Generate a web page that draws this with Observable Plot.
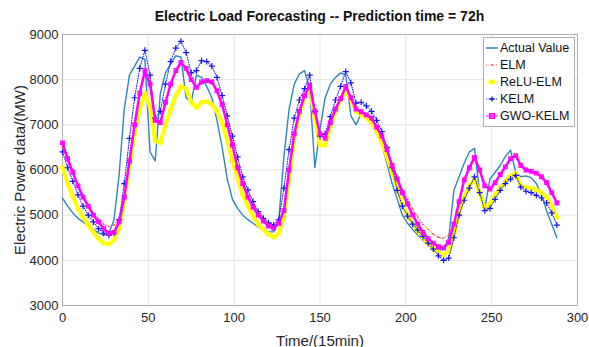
<!DOCTYPE html>
<html><head><meta charset="utf-8">
<script src="https://cdn.jsdelivr.net/npm/d3@7"></script>
<script src="https://cdn.jsdelivr.net/npm/@observablehq/plot@0.6"></script>
<style>
body{margin:0;background:#fff;font-family:"Liberation Sans",Arial,sans-serif;}
#wrap{position:relative;width:589px;height:347px;overflow:hidden;}
#title{position:absolute;left:62px;width:515px;top:8px;text-align:center;font-weight:bold;font-size:14px;color:#111;white-space:nowrap;}
#ylab{position:absolute;left:19px;top:170px;transform:translate(-50%,-50%) rotate(-90deg);font-size:15px;color:#262626;white-space:nowrap;}
#xlab{position:absolute;left:320px;top:340px;transform:translate(-50%,-50%);font-size:15px;color:#262626;white-space:nowrap;}
#legend{position:absolute;left:483px;top:37px;width:92px;height:90px;border:1px solid #b0b0b0;background:#fff;box-sizing:border-box;font-size:12.5px;color:#111;}
#legend .row{position:absolute;left:2px;height:16px;display:flex;align-items:center;white-space:nowrap;}
#legend svg{margin-right:1px;}
</style></head><body>
<div id="wrap">
<div id="chart"></div>
<div id="title">Electric Load Forecasting -- Prediction time = 72h</div>
<div id="ylab">Electric Power data/(MW)</div>
<div id="xlab">Time/(15min)</div>
<div id="legend"></div>
</div>
<script>
const xTicks = [0, 50, 100, 150, 200, 250, 300];
const yTicks = [3000, 4000, 5000, 6000, 7000, 8000, 9000];
const seriesNames = ["Actual Value", "ELM", "ReLU-ELM", "KELM", "GWO-KELM"];
const time = [0,3,6,9,12,15,18,21,24,27,30,33,36,39,42,45,48,51,54,57,60,63,66,69,72,75,78,81,84,87,90,93,96,99,102,105,108,111,114,117,120,123,126,129,132,135,138,141,144,147,150,153,156,159,162,165,168,171,174,177,180,183,186,189,192,195,198,201,204,207,210,213,216,219,222,225,228,231,234,237,240,243,246,249,252,255,258,261,264,267,270,273,276,279,282,285,288];
const actual = [5380,5200,5050,4930,4850,4760,4680,4610,4560,4600,4900,5900,7350,8100,8300,8500,8450,6400,6200,7700,8150,8350,8530,8500,7600,7500,8100,8050,7850,7600,7100,6500,5800,5350,5150,5000,4900,4820,4740,4680,4630,4630,4900,6300,7350,7900,8130,8200,7800,6050,6900,7600,7900,8050,8150,8100,7200,7000,7250,7150,7000,6850,6550,6150,5700,5350,5000,4820,4680,4560,4440,4350,4280,4220,4250,4500,5550,5850,6150,6400,6480,5500,5150,5800,5950,6100,6300,6440,5950,5850,5870,5830,5700,5450,5100,4800,4500];
const elm = [6500,6200,5920,5650,5420,5230,5050,4920,4800,4750,4780,4950,5450,6250,7050,7700,8150,7850,7100,7050,7500,7900,8180,8350,8230,7980,7830,7930,7960,7930,7730,7430,7000,6550,6080,5730,5450,5230,5060,4940,4850,4800,4880,5150,6000,6780,7280,7630,7850,7280,6800,6700,7050,7350,7580,7840,7600,7350,7290,7220,7150,6950,6750,6450,6130,5850,5580,5350,5140,4960,4800,4680,4580,4510,4490,4560,4850,5300,5780,6050,6270,6000,5650,5600,5730,5900,6060,6230,6300,6100,6000,5970,5920,5840,5700,5480,5250];
const reluElm = [6050,5700,5400,5150,4950,4780,4620,4480,4380,4360,4450,4700,5300,6100,6800,7350,7700,7400,6650,6600,7000,7350,7650,7850,7800,7500,7380,7500,7520,7450,7300,7050,6650,6200,5800,5450,5200,4980,4800,4680,4580,4510,4600,4950,5800,6700,7250,7600,7800,7150,6550,6550,6950,7300,7550,7780,7550,7300,7230,7150,7050,6850,6600,6300,5950,5600,5250,5000,4800,4650,4500,4380,4250,4170,4120,4200,4550,5050,5400,5650,5800,5500,5150,5250,5450,5600,5750,5870,5930,5650,5620,5600,5560,5500,5400,5200,4950];
const kelm = [6400,6050,5750,5450,5200,5000,4850,4700,4600,4550,4600,4900,5700,6700,7600,8250,8650,8100,7150,7300,7900,8400,8700,8850,8600,8150,8200,8420,8400,8300,8050,7650,7200,6750,6290,5850,5560,5300,5080,4930,4830,4780,4900,5600,6450,7150,7550,7800,8100,7300,6750,6800,7180,7550,7850,8180,7930,7480,7500,7420,7300,7100,6850,6500,6050,5550,5200,4980,4800,4670,4530,4380,4250,4100,4000,4050,4500,5000,5330,5600,5850,5500,5100,5150,5350,5550,5700,5800,5880,5620,5530,5500,5440,5380,5270,5050,4780];
const gwoKelm = [6600,6250,5950,5650,5400,5200,5000,4850,4700,4600,4620,4850,5400,6200,7000,7700,8200,7900,7100,7050,7500,7900,8200,8380,8250,8000,7830,7950,7980,7950,7750,7450,7000,6550,6050,5700,5400,5180,5000,4870,4760,4710,4820,5100,6000,6800,7300,7650,7880,7300,6800,6700,7050,7350,7580,7850,7600,7350,7290,7220,7150,6950,6750,6450,6100,5800,5500,5250,5000,4800,4620,4480,4380,4300,4270,4400,4800,5300,5780,6050,6280,6000,5650,5580,5720,5900,6070,6250,6320,6100,6000,5970,5930,5850,5720,5500,5270];

const colors = {actual: "#2f86b8", elm: "#f04a4a", relu: "#ffff00", kelm: "#1414f0", gwo: "#ff00ff"};
const rows = vals => time.map((t, i) => ({t, v: vals[i]}));

const chart = Plot.plot({
  width: 589, height: 347,
  marginLeft: 62, marginRight: 12, marginTop: 34, marginBottom: 42,
  style: {fontFamily: "Liberation Sans, Arial, sans-serif", fontSize: "13px", color: "#262626", background: "#fff"},
  x: {domain: [0, 300], ticks: xTicks, label: null},
  y: {domain: [3000, 9000], ticks: yTicks, label: null},
  marks: [
    Plot.gridX(xTicks, {stroke: "#e3e3e3", strokeOpacity: 1}),
    Plot.gridY(yTicks, {stroke: "#e3e3e3", strokeOpacity: 1}),
    Plot.frame({stroke: "#b0b0b0"}),
    Plot.axisX(xTicks, {tickSize: 0, tickPadding: 7, fontSize: 13, label: null, tickFormat: d => String(d)}),
    Plot.axisY(yTicks, {tickSize: 0, tickPadding: 4, fontSize: 13, label: null, tickFormat: d => String(d)}),
    Plot.line(rows(actual), {x: "t", y: "v", stroke: colors.actual, strokeWidth: 1.4}),
    Plot.line(rows(elm), {x: "t", y: "v", stroke: colors.elm, strokeWidth: 1, strokeDasharray: "1,2"}),
    Plot.dot(rows(elm), {x: "t", y: "v", r: 0.8, fill: colors.elm}),
    Plot.line(rows(reluElm), {x: "t", y: "v", stroke: colors.relu, strokeWidth: 4}),
    Plot.dot(rows(reluElm), {x: "t", y: "v", r: 2.4, fill: colors.relu}),
    Plot.line(rows(kelm), {x: "t", y: "v", stroke: colors.kelm, strokeWidth: 1, strokeDasharray: "1,1.5"}),
    Plot.dot(rows(kelm), {x: "t", y: "v", r: 2.1, symbol: "plus", stroke: colors.kelm, strokeWidth: 1.2}),
    Plot.line(rows(gwoKelm), {x: "t", y: "v", stroke: colors.gwo, strokeWidth: 2.5}),
    Plot.dot(rows(gwoKelm), {x: "t", y: "v", r: 2.1, symbol: "square", fill: colors.gwo, fillOpacity: 0.5, stroke: colors.gwo, strokeWidth: 1.1})
  ]
});
document.getElementById("chart").appendChild(chart);

// legend
const leg = document.getElementById("legend");
const samples = [
  `<line x1="0" y1="6" x2="12" y2="6" stroke="${colors.actual}" stroke-width="1.5"/>`,
  `<line x1="0" y1="6" x2="12" y2="6" stroke="${colors.elm}" stroke-width="1" stroke-dasharray="1,1.5"/><circle cx="6" cy="6" r="0.9" fill="${colors.elm}"/>`,
  `<line x1="0" y1="6" x2="12" y2="6" stroke="${colors.relu}" stroke-width="1"/><circle cx="6" cy="6" r="2.8" fill="${colors.relu}"/>`,
  `<line x1="0" y1="6" x2="12" y2="6" stroke="${colors.kelm}" stroke-width="1" stroke-dasharray="1,1.5"/><path d="M3.5,6H8.5M6,3.5V8.5" stroke="${colors.kelm}" stroke-width="1.3"/>`,
  `<line x1="0" y1="6" x2="12" y2="6" stroke="${colors.gwo}" stroke-width="1"/><rect x="3.6" y="3.6" width="4.8" height="4.8" fill="${colors.gwo}" fill-opacity="0.6" stroke="${colors.gwo}" stroke-width="1.2"/>`
];
seriesNames.forEach((name, i) => {
  const r = document.createElement("div");
  r.className = "row";
  r.style.top = (2 + i * 17) + "px";
  r.innerHTML = `<svg width="13" height="12">${samples[i]}</svg><span>${name}</span>`;
  leg.appendChild(r);
});
</script>
</body></html>
